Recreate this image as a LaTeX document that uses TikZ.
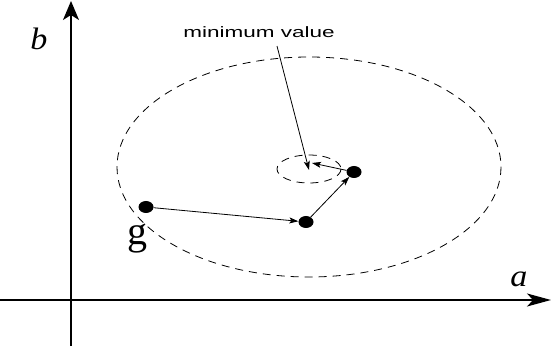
\documentclass[tikz,border=0pt]{standalone}
\usepackage{fontspec}
\newfontfamily\labelfont{Liberation Sans}
\newfontfamily\varfont{Liberation Serif}
\usetikzlibrary{arrows.meta,shapes.geometric}

\tikzset{
  haxis/.style={line width=1.3pt, -{Stealth[length=24pt, width=13pt, inset=6pt]}},
  vaxis/.style={line width=1.3pt, -{Stealth[length=19pt, width=16pt, inset=5pt]}},
  step arrow/.style={line width=0.8pt, -{Stealth[length=9pt, width=6pt, inset=2pt]}},
  level/.style={line width=0.8pt, dash pattern=on 8pt off 6pt},
  dot/.style={ellipse, fill=black, inner sep=0pt, minimum width=15pt, minimum height=12pt},
  varname/.style={font=\varfont\itshape\fontsize{31}{36}\selectfont, xscale=1.1}
}

\begin{document}
\begin{tikzpicture}[x=1pt, y=-1pt]
    \useasboundingbox (0,0) rectangle (554,347);

    % --- Axes ---
    \coordinate (xstart) at (0,300);
    \coordinate (xend) at (551,300);
    \coordinate (ystart) at (71,346);
    \coordinate (yend) at (71,1);
    \draw[haxis] (xstart) -- (xend);
    \draw[vaxis] (ystart) -- (yend);
    \node[varname] (alabel) at (519,279) {a};
    \node[varname] (blabel) at (39,39) {b};

    % --- Level sets ---
    \draw[level] (309,167) ellipse (192 and 110);
    \draw[level] (309,169) ellipse (32 and 14);

    % --- Steps ---
    \node[dot] (g) at (146,207) {};
    \node[dot] (mid) at (306,222) {};
    \node[dot] (right) at (354,172) {};
    \coordinate (last) at (312,163);
    \node[font=\varfont\fontsize{40}{44}\selectfont] (glabel) at (137,239) {g};

    \draw[step arrow] (g) -- (mid);
    \draw[step arrow] (mid) -- (right);
    \draw[step arrow] (right) -- (last);

    % --- Minimum ---
    \coordinate (centre) at (309,170);
    \node[font=\labelfont\fontsize{15}{18}\selectfont, xscale=1.5] (minlabel) at (259,32) {minimum value};
    \draw[step arrow] ([xshift=18pt, yshift=-5pt]minlabel.south) -- (centre);

\end{tikzpicture}
\end{document}
